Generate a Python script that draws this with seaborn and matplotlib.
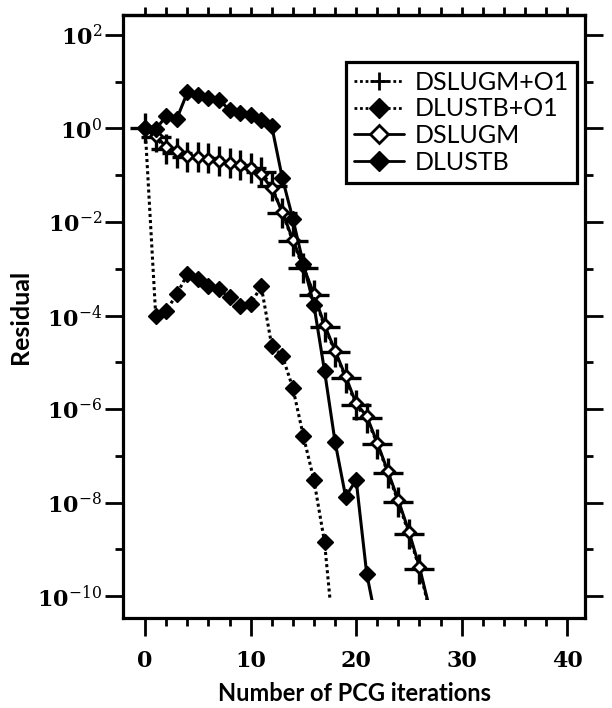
import numpy as np
import pandas as pd
import matplotlib
matplotlib.use("Agg")
import matplotlib.pyplot as plt
import seaborn as sns
from matplotlib.lines import Line2D
from matplotlib.patches import Rectangle
from matplotlib.ticker import FixedLocator, FixedFormatter, NullFormatter

# iteration numbers for each run
iters_dslugm_o1 = list(range(0, 28))
iters_dlustb_o1 = list(range(0, 19))
iters_dslugm = list(range(0, 28))
iters_dlustb = list(range(0, 23))

# log10 of the residual
log_dslugm_o1 = [0.0, -0.19, -0.44, -0.52, -0.60, -0.62, -0.64, -0.69, -0.73, -0.77,
                 -0.84, -0.93, -1.23, -1.80, -2.41, -2.98, -3.56, -4.24, -4.77, -5.34,
                 -5.92, -6.20, -6.74, -7.37, -7.99, -8.67, -9.42, -10.35]
log_dlustb_o1 = [0.0, -4.00, -3.90, -3.54, -3.12, -3.22, -3.37, -3.44, -3.61, -3.79,
                 -3.76, -3.37, -4.65, -4.86, -5.55, -6.58, -7.52, -8.84, -11.2]
log_dslugm = [0.0, -0.15, -0.40, -0.48, -0.58, -0.62, -0.66, -0.70, -0.74, -0.78,
              -0.85, -0.98, -1.28, -1.78, -2.38, -2.95, -3.55, -4.20, -4.75, -5.30,
              -5.88, -6.15, -6.72, -7.33, -7.95, -8.62, -9.38, -10.30]
log_dlustb = [0.0, -0.02, 0.27, 0.21, 0.77, 0.71, 0.66, 0.61, 0.40, 0.33,
              0.28, 0.19, 0.05, -1.06, -1.93, -2.90, -3.78, -5.18, -6.70, -7.87,
              -7.52, -9.52, -10.65]

labels = ["DSLUGM+O1", "DLUSTB+O1", "DSLUGM", "DLUSTB"]

DOT = (0, (1, 1))
styles = {
    "DSLUGM+O1": dict(linestyle=DOT, marker="+", ms=22, mew=2.4, mfc="black"),
    "DLUSTB+O1": dict(linestyle=DOT, marker="D", ms=8.5, mew=1, mfc="black"),
    "DSLUGM": dict(linestyle="-", marker="D", ms=6.5, mew=2.0, mfc="white"),
    "DLUSTB": dict(linestyle="-", marker="D", ms=8.5, mew=1, mfc="black"),
}

frames = []
for name, it, lg in [("DSLUGM+O1", iters_dslugm_o1, log_dslugm_o1),
                     ("DLUSTB+O1", iters_dlustb_o1, log_dlustb_o1),
                     ("DSLUGM", iters_dslugm, log_dslugm),
                     ("DLUSTB", iters_dlustb, log_dlustb)]:
    frames.append(pd.DataFrame({"iter": it, "residual": np.power(10.0, lg), "run": name}))
df = pd.concat(frames, ignore_index=True)

sns.set_style("ticks")
plt.rcParams["font.family"] = ["Lato", "DejaVu Sans"]
plt.rcParams["mathtext.fontset"] = "dejavuserif"
for key in ["axes.edgecolor", "xtick.color", "ytick.color", "text.color", "axes.labelcolor"]:
    plt.rcParams[key] = "black"

fig = plt.figure(figsize=(6.12, 7.08), dpi=100)
ax = fig.add_axes([0.201, 0.127, 0.755, 0.852])

for name in labels:
    sub = df[df["run"] == name]
    sns.lineplot(data=sub, x="iter", y="residual", ax=ax, color="black", lw=2.2,
                 mec="black", markevery=slice(0, len(sub) - 1), legend=False,
                 **styles[name])

ax.set_yscale("log")
ax.set_xlim(-2.1, 41.7)
ax.set_ylim(10 ** -10.47, 10 ** 2.43)

# lines stop at the 1e-10 tolerance
clip = Rectangle((-5, 10 ** -10.08), 60, 1e6, transform=ax.transData)
for ln in ax.lines:
    ln.set_clip_path(clip)

# y ticks: labelled even decades, short odd decades
ymaj = [10.0 ** e for e in range(-10, 3, 2)]
ymin = [10.0 ** e for e in range(-9, 2, 2)]
ax.yaxis.set_major_locator(FixedLocator(ymaj))
ax.yaxis.set_major_formatter(FixedFormatter(
    [r"$\mathbf{10}^{%d}$" % e for e in range(-10, 3, 2)]))
ax.yaxis.set_minor_locator(FixedLocator(ymin))
ax.yaxis.set_minor_formatter(NullFormatter())

ax.xaxis.set_major_locator(FixedLocator([0, 10, 20, 30, 40]))
ax.xaxis.set_minor_locator(FixedLocator(list(range(0, 41, 2))))

ax.tick_params(which="major", direction="out", length=13, width=2.0,
               labelsize=16, right=True, top=False, pad=2, colors="black")
ax.tick_params(which="minor", direction="out", length=6, width=2.0,
               right=True, top=False, colors="black")
ax.tick_params(axis="x", which="major", pad=10)
for lab in ax.get_xticklabels():
    lab.set_fontfamily("DejaVu Serif")
    lab.set_fontweight("bold")
    lab.set_fontsize(16)

top = ax.secondary_xaxis("top")
top.xaxis.set_major_locator(FixedLocator(list(range(0, 41, 2))))
top.tick_params(direction="out", length=6, width=2.0, labeltop=False, colors="black")
top.spines["top"].set_linewidth(2.3)
top.spines["top"].set_color("black")

for sp in ax.spines.values():
    sp.set_linewidth(2.3)
    sp.set_color("black")
    sp.set_visible(True)

ax.set_xlabel("Number of PCG iterations", fontsize=17, fontweight="bold", labelpad=7)
ax.set_ylabel("Residual", fontsize=18, fontweight="bold", labelpad=4)

handles = [
    Line2D([], [], color="black", lw=2, linestyle=DOT, marker="+", ms=13, mew=2),
    Line2D([], [], color="black", lw=2, linestyle=DOT, marker="D", ms=10, mfc="black", mec="black"),
    Line2D([], [], color="black", lw=2, linestyle="-", marker="D", ms=9, mfc="white", mec="black", mew=2),
    Line2D([], [], color="black", lw=2, linestyle="-", marker="D", ms=10, mfc="black", mec="black"),
]
leg = ax.legend(handles, labels, loc="upper right", bbox_to_anchor=(0.983, 0.922),
                borderaxespad=0, fontsize=18, frameon=True, fancybox=False,
                edgecolor="black", framealpha=1, handlelength=2.0,
                handletextpad=0.4, labelspacing=0.15, borderpad=0.35)
leg.get_frame().set_linewidth(2.3)

fig.savefig("out.png", dpi=100)
